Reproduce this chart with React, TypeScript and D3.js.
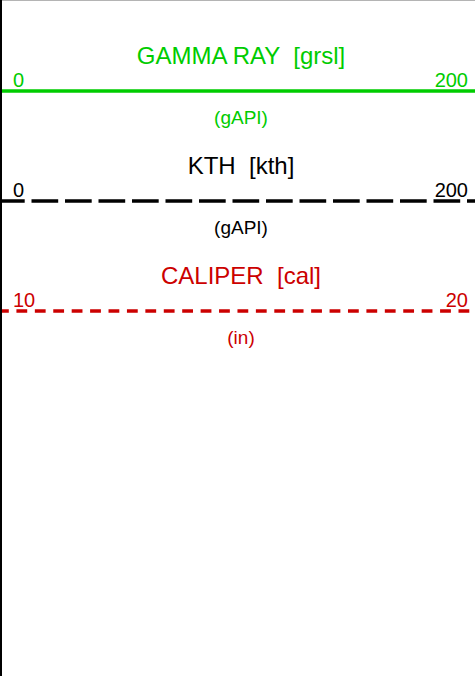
import React from "react";
import * as d3 from "d3";

const curveNames = ["GAMMA RAY", "KTH", "CALIPER"];
const mnemonics = ["grsl", "kth", "cal"];
const units = ["gAPI", "gAPI", "in"];
const scaleMin = [0, 0, 10];
const scaleMax = [200, 200, 20];

const lineColors = ["#00cc00", "#000000", "#cc0000"];
const dashPatterns = [null, "26.7 6.8", "10.8 7.62"];

const W = 475;
const H = 676;

export default function App() {
  const yRow = d3.scalePoint<string>().domain(curveNames).range([91, 311]);
  const font = "'Liberation Sans', Arial, sans-serif";
  return (
    <svg
      width={W}
      height={H}
      style={{ position: "fixed", left: 0, top: 0, background: "#fff" }}
      fontFamily={font}
    >
      <rect x={0} y={0} width={W} height={H} fill="#fff" />
      <line x1={0} x2={W} y1={0.5} y2={0.5} stroke="#b4b4b4" strokeWidth={1} />
      {curveNames.map((name, i) => {
        const x = d3.scaleLinear().domain([scaleMin[i], scaleMax[i]]).range([13, 468]);
        const y = yRow(name)!;
        const c = lineColors[i];
        const cx = (x(scaleMin[i]) + x(scaleMax[i])) / 2 + 0.5;
        return (
          <g key={name}>
            <text
              x={cx}
              y={y - 27}
              fontSize={24}
              fill={c}
              textAnchor="middle"
              style={{ whiteSpace: "pre" }}
            >
              {`${name}  [${mnemonics[i]}]`}
            </text>
            <line
              x1={-2}
              x2={W + 2}
              y1={y}
              y2={y}
              stroke={c}
              strokeWidth={3.6}
              strokeDasharray={dashPatterns[i] ?? undefined}
            />
            <text x={x(scaleMin[i])} y={y - 4.5} fontSize={20} fill={c} textAnchor="start">
              {scaleMin[i]}
            </text>
            <text x={x(scaleMax[i])} y={y - 4.5} fontSize={20} fill={c} textAnchor="end">
              {scaleMax[i]}
            </text>
            <text x={cx} y={y + 33} fontSize={19} fill={c} textAnchor="middle">
              {`(${units[i]})`}
            </text>
          </g>
        );
      })}
      <line x1={1} x2={1} y1={0} y2={H} stroke="#000" strokeWidth={2} />
    </svg>
  );
}
